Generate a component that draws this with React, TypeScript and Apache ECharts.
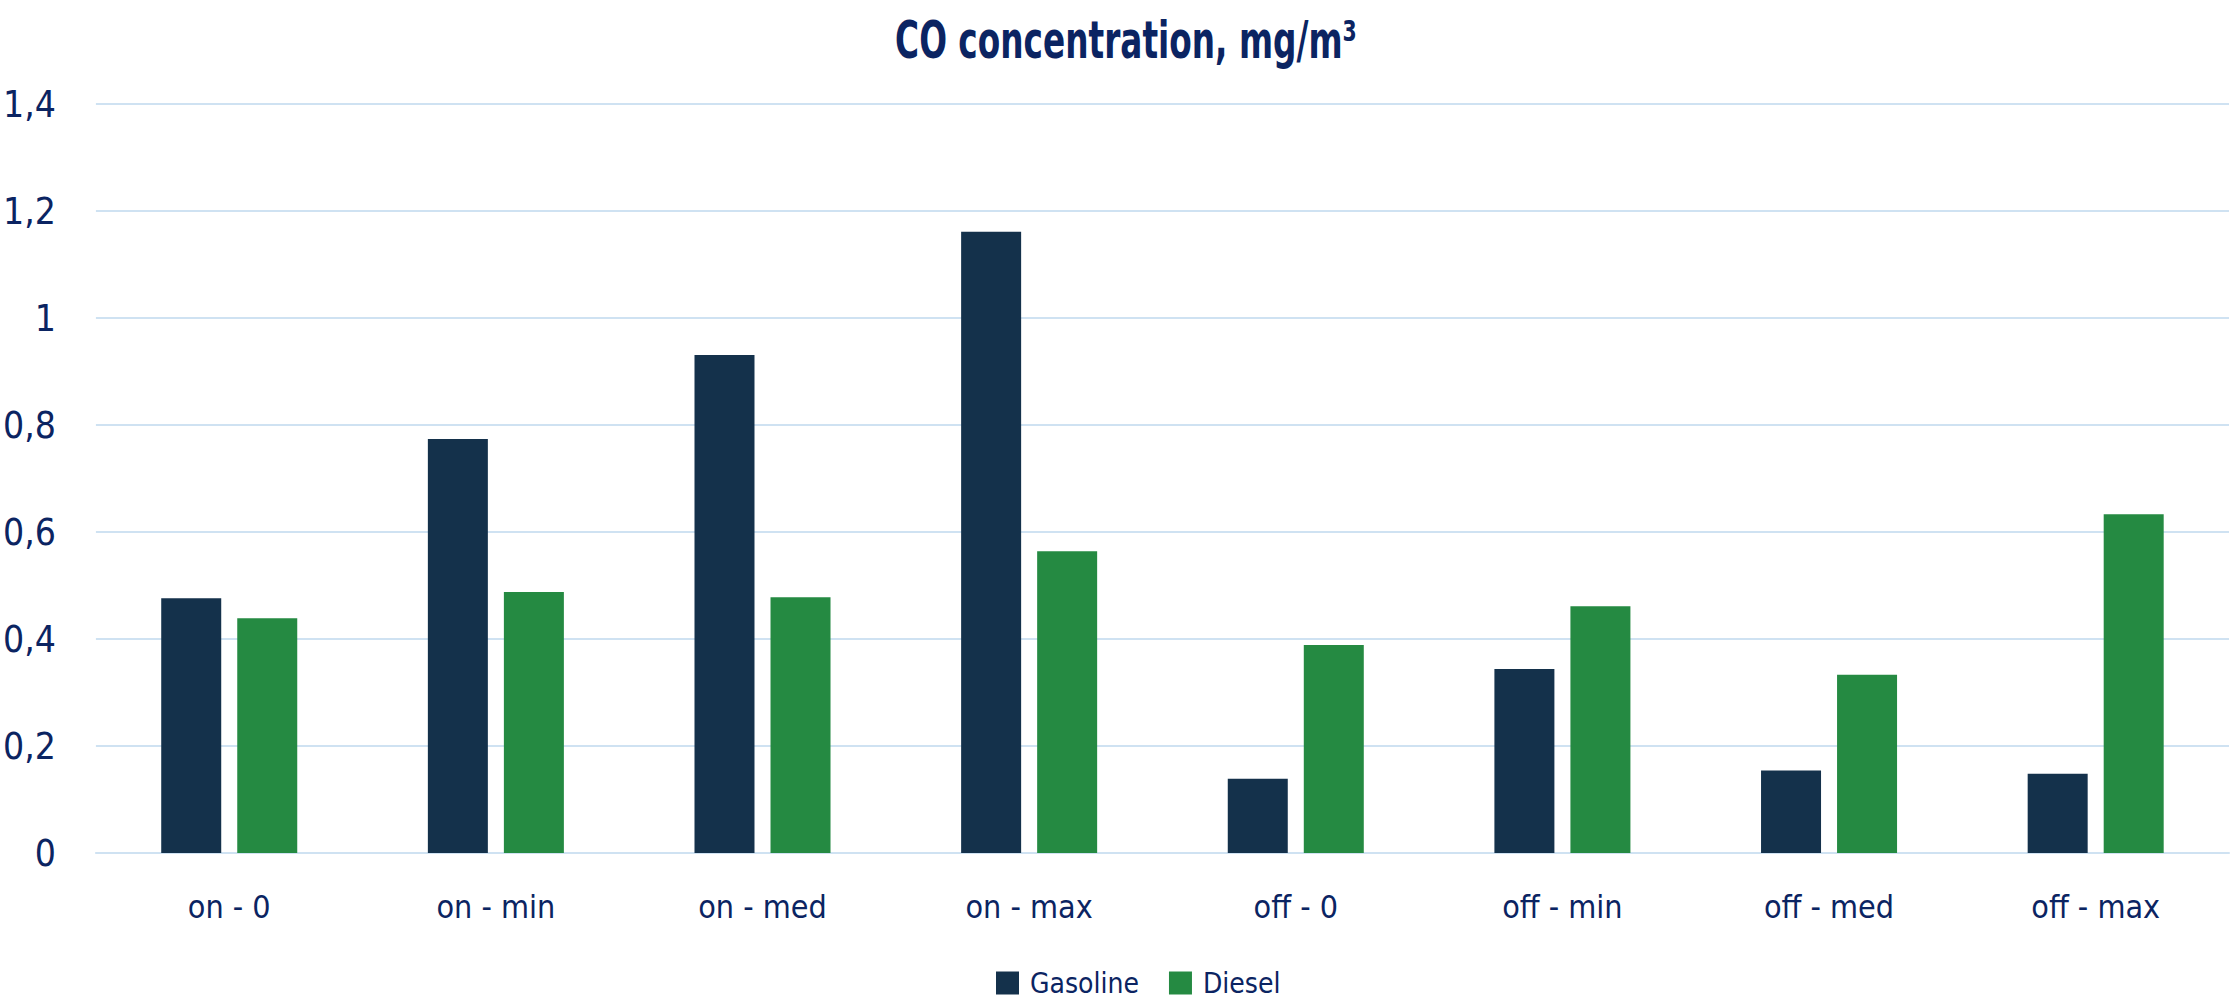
import React, { useEffect, useRef } from "react";
import * as echarts from "echarts";

const categories = ["on - 0", "on - min", "on - med", "on - max", "off - 0", "off - min", "off - med", "off - max"];
const gasoline = [0.476, 0.774, 0.931, 1.161, 0.139, 0.344, 0.154, 0.148];
const diesel = [0.439, 0.488, 0.478, 0.564, 0.389, 0.461, 0.333, 0.633];
const seriesNames = ["Gasoline", "Diesel"];
const titleText = "CO concentration, mg/m³";

const NAVY = "#0b2462";
const FONT = "'DejaVu Sans Condensed', 'Liberation Sans Narrow', sans-serif";

export default function App() {
  const ref = useRef<HTMLDivElement>(null);
  useEffect(() => {
    document.body.style.margin = "0";
    const chart = echarts.init(ref.current!, undefined, { renderer: "svg" });
    chart.setOption({
      animation: false,
      backgroundColor: "#ffffff",
      graphic: [
        {
          type: "text",
          x: 1126,
          y: 40,
          scaleX: 0.7,
          style: {
            text: titleText,
            fill: NAVY,
            font: `bold 52px ${FONT}`,
            textAlign: "center",
            textVerticalAlign: "middle",
          },
        },
      ],
      legend: {
        data: seriesNames,
        left: 991,
        top: 964,
        itemWidth: 23,
        itemHeight: 23,
        itemGap: 30,
        icon: "rect",
        textStyle: { color: NAVY, fontFamily: FONT, fontSize: 28, padding: [0, 0, 0, 6] },
      },
      grid: { left: 93, right: 8, top: 104, bottom: 147, containLabel: false },
      xAxis: {
        type: "category",
        data: categories,
        axisLine: { show: true, lineStyle: { color: "#cfe2f2", width: 2 } },
        axisTick: { show: false },
        axisLabel: { color: NAVY, fontFamily: FONT, fontSize: 32, margin: 38 },
      },
      yAxis: {
        type: "value",
        min: 0,
        max: 1.4,
        interval: 0.2,
        axisLine: { show: false },
        axisTick: { show: false },
        splitLine: { lineStyle: { color: "#cfe2f2", width: 2 } },
        axisLabel: {
          color: NAVY,
          fontFamily: FONT,
          fontSize: 37,
          margin: 40,
          formatter: (v: number) => String(+v.toFixed(1)).replace(".", ","),
        },
      },
      series: [
        {
          name: seriesNames[0],
          type: "bar",
          data: gasoline,
          barWidth: 60,
          barGap: "26.7%",
          itemStyle: { color: "#14314b" },
        },
        {
          name: seriesNames[1],
          type: "bar",
          data: diesel,
          barWidth: 60,
          itemStyle: { color: "#258a42" },
        },
      ],
    });
    return () => chart.dispose();
  }, []);
  return <div ref={ref} style={{ width: 2237, height: 1000 }} />;
}
